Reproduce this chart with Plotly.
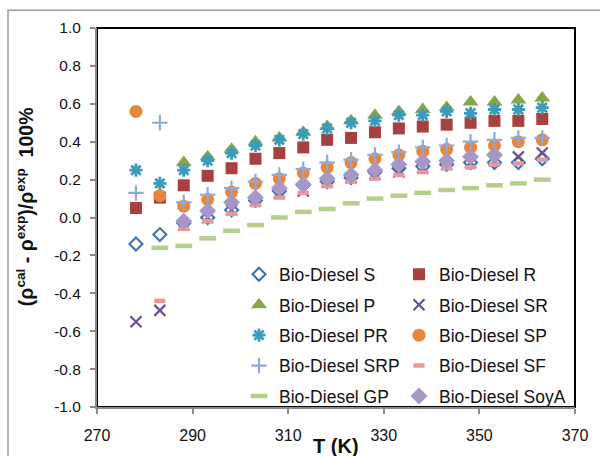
import plotly.graph_objects as go

# Temperature grid (K)
temperature = [278.15, 283.15, 288.15, 293.15, 298.15, 303.15, 308.15, 313.15, 318.15,
               323.15, 328.15, 333.15, 338.15, 343.15, 348.15, 353.15, 358.15, 363.15]

# Relative density deviation (%) for each biodiesel
dev_S = [-0.14, -0.09, -0.03, 0.00, 0.04, 0.09, 0.14, 0.17, 0.19,
         0.21, 0.24, 0.26, 0.27, 0.28, 0.29, 0.29, 0.29, 0.31]
dev_R = [0.05, 0.105, 0.17, 0.22, 0.26, 0.31, 0.34, 0.37, 0.41,
         0.42, 0.45, 0.47, 0.48, 0.49, 0.50, 0.51, 0.51, 0.52]
dev_P = [None, None, 0.29, 0.32, 0.36, 0.40, 0.42, 0.45, 0.48,
         0.51, 0.54, 0.56, 0.57, 0.58, 0.61, 0.61, 0.62, 0.63]
dev_SR = [-0.55, -0.49, -0.04, 0.00, 0.04, 0.09, 0.13, 0.14, 0.19,
          0.21, 0.23, 0.24, 0.26, 0.28, 0.29, 0.30, 0.32, 0.34]
dev_PR = [0.25, 0.18, 0.25, 0.30, 0.34, 0.38, 0.41, 0.44, 0.47,
          0.50, 0.51, 0.54, 0.54, 0.56, 0.55, 0.57, 0.57, 0.58]
dev_SP = [0.56, 0.115, 0.06, 0.095, 0.135, 0.18, 0.205, 0.235, 0.265,
          0.29, 0.31, 0.33, 0.35, 0.36, 0.37, 0.38, 0.40, 0.41]
dev_SRP = [0.13, 0.50, 0.08, 0.12, 0.155, 0.19, 0.225, 0.255, 0.29,
           0.305, 0.33, 0.345, 0.37, 0.38, 0.40, 0.41, 0.42, 0.42]
dev_SF = [None, -0.44, -0.06, -0.02, 0.02, 0.065, 0.105, 0.13, 0.165,
          0.19, 0.205, 0.225, 0.24, 0.26, 0.265, 0.28, 0.285, 0.305]
dev_GP = [None, -0.16, -0.15, -0.11, -0.07, -0.04, 0.00, 0.03, 0.045,
          0.075, 0.10, 0.115, 0.13, 0.145, 0.155, 0.17, 0.18, 0.20]
dev_SoyA = [None, None, -0.02, 0.035, 0.08, 0.105, 0.155, 0.175, 0.205,
            0.225, 0.25, 0.28, 0.295, 0.30, 0.32, 0.33, None, None]

x_ticks = [270, 290, 310, 330, 350, 370]
y_ticks = [-1.0, -0.8, -0.6, -0.4, -0.2, 0.0, 0.2, 0.4, 0.6, 0.8, 1.0]

W, H = 600, 456
L, R, T, B = 97, 25, 28, 43
PW, PH = W - L - R, H - T - B


def px_x(p):
    return (p - L) / PW


def px_y(p):
    return (H - B - p) / PH


# name, values, symbol, colour, size, line width, legend column
series = [
    ("Bio-Diesel S", dev_S, "diamond-open", "#3C6EB4", 10, 2, "legend"),
    ("Bio-Diesel R", dev_R, "square", "#A8403D", 12, 0, "legend2"),
    ("Bio-Diesel P", dev_P, "triangle-up", "#87A64A", 14, 0, "legend"),
    ("Bio-Diesel SR", dev_SR, "x-thin", "#6A4E96", 11, 2.2, "legend2"),
    ("Bio-Diesel PR", dev_PR, "asterisk", "#3A9CB8", 11, 2.8, "legend"),
    ("Bio-Diesel SP", dev_SP, "circle", "#E8863A", 13, 0, "legend2"),
    ("Bio-Diesel SRP", dev_SRP, "cross-thin", "#8EAAD8", 11, 2.2, "legend"),
    ("Bio-Diesel SF", dev_SF, "line-ew", "#E39A9A", 8, 4.5, "legend2"),
    ("Bio-Diesel GP", dev_GP, "line-ew", "#B5CE8C", 12, 4.5, "legend"),
    ("Bio-Diesel SoyA", dev_SoyA, "diamond", "#A797C6", 13, 0, "legend2"),
]

fig = go.Figure()
for i, (name, vals, sym, col, size, lw, leg) in enumerate(series):
    marker = dict(symbol=sym, color=col, size=size)
    if lw:
        marker["line"] = dict(color=col, width=lw)
    else:
        marker["line"] = dict(width=0)
    fig.add_trace(go.Scatter(
        x=temperature, y=vals, mode="markers", name=name,
        marker=marker, legend=leg, legendgroup=name,
    ))

axis_line = "#8A8A8A"
FONT = "Liberation Sans, Arial, sans-serif"
tick_font = dict(family=FONT, size=15.5, color="#111111")
legend_font = dict(family=FONT, size=17.5, color="#111111")

fig.update_layout(
    width=W, height=H,
    margin=dict(l=L, r=R, t=T, b=B, pad=0),
    paper_bgcolor="white", plot_bgcolor="white",
    font=dict(family=FONT, color="#111111"),
    xaxis=dict(
        range=[270, 370], tickvals=x_ticks, ticktext=[str(v) for v in x_ticks],
        showgrid=False, zeroline=False, showline=True, linecolor=axis_line, linewidth=2,
        ticks="outside", ticklen=5, tickwidth=2, tickcolor=axis_line,
        tickfont=dict(tick_font, size=16), ticklabelstandoff=8,
    ),
    yaxis=dict(
        range=[-1.0, 1.0], tickvals=y_ticks, ticktext=[f"{v:.1f}" for v in y_ticks],
        showgrid=False, zeroline=False, showline=True, linecolor=axis_line, linewidth=2,
        ticks="outside", ticklen=5, tickwidth=2, tickcolor=axis_line,
        tickfont=tick_font, ticklabelstandoff=6,
    ),
    legend=dict(
        x=px_x(239), y=px_y(260), xanchor="left", yanchor="top",
        bgcolor="rgba(0,0,0,0)", borderwidth=0, tracegroupgap=4.7, font=legend_font,
    ),
    legend2=dict(
        x=px_x(399), y=px_y(260), xanchor="left", yanchor="top",
        bgcolor="rgba(0,0,0,0)", borderwidth=0, tracegroupgap=4.7, font=legend_font,
    ),
    shapes=[
        # chart frame
        dict(type="rect", xref="paper", yref="paper",
             x0=px_x(8), x1=px_x(640), y0=px_y(500), y1=px_y(10),
             line=dict(color="#9C9C9C", width=1.5), layer="below"),
        # plot-area border
        dict(type="rect", xref="paper", yref="paper", x0=0, x1=1, y0=0, y1=1,
             line=dict(color="black", width=2), layer="below"),
    ],
    annotations=[
        dict(text="(ρ<sup>cal</sup> - ρ<sup>exp</sup>)/ρ<sup>exp</sup>&nbsp; 100%",
             xref="paper", yref="paper", x=px_x(25), y=px_y(210),
             xanchor="center", yanchor="middle", textangle=-90, showarrow=False,
             font=dict(family=FONT, size=19.5, color="#111111", weight="bold")),
        dict(text="T (K)", xref="paper", yref="paper", x=px_x(336), y=px_y(453),
             xanchor="center", yanchor="middle", showarrow=False,
             font=dict(family=FONT, size=20, color="#111111", weight="bold")),
    ],
)

fig.write_html("out.html")
